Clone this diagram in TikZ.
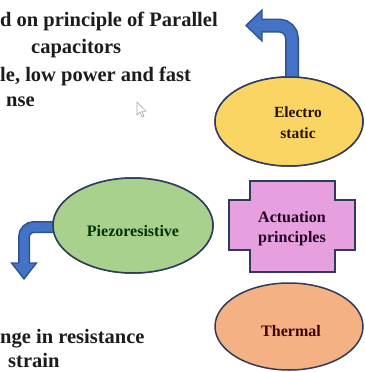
\documentclass[tikz,border=0pt]{standalone}
\usepackage{fontspec}
\setmainfont{Liberation Serif}[BoldFont={Liberation Serif Bold}]
\usetikzlibrary{shapes.geometric}
\definecolor{bordercol}{HTML}{2E3B5C}
\definecolor{yellowfill}{HTML}{FBD563}
\definecolor{greenfill}{HTML}{A9D18E}
\definecolor{pinkfill}{HTML}{E6A0DF}
\definecolor{orangefill}{HTML}{F4B183}
\definecolor{arrowfill}{HTML}{4472C4}
\definecolor{arrowedge}{HTML}{2F528F}
\definecolor{bodytext}{HTML}{1C1C1C}
\begin{document}
\begin{tikzpicture}[x=1pt,y=-1pt,
  shapeline/.style={draw=bordercol, line width=1.5pt},
  ell/.style={ellipse, shapeline, inner sep=0pt},
  lbl/.style={align=center, inner sep=0pt, font=\rmfamily\bfseries\fontsize{16}{20}\selectfont},
  body/.style={anchor=base west, inner sep=0pt, text=bodytext, font=\rmfamily\bfseries\fontsize{20.5}{24}\selectfont},
  shaftout/.style={draw=arrowedge, line cap=butt},
  shaftin/.style={draw=arrowfill, line cap=butt},
  head/.style={fill=arrowfill, draw=arrowedge, line width=1.3pt, line join=miter}
]
\clip (0,0) rectangle (364,372);
\fill[white] (0,0) rectangle (364,372);

% body texts
\node[body] (t1) at (0,26) {d on principle of Parallel};
\node[body] (t2) at (31,53) {capacitors};
\node[body] (t3) at (0,81) {le, low power and fast};
\node[body] (t4) at (6,106) {nse};
\node[body] (t5) at (0,343) {nge in resistance};
\node[body] (t6) at (8,367) {strain};

% mouse cursor
\draw[gray!70, line width=0.6pt, fill=white, line join=round]
  (137,102) -- (137,115) -- (140,112) -- (142.2,117) -- (144,116.2) -- (141.8,111.3) -- (146,111.3) -- cycle;

% ellipses (first pass, anchors for the arrows)
\node[ell, fill=yellowfill, minimum width=148pt, minimum height=89pt] (elec) at (289,121.5) {};
\node[ell, fill=greenfill, minimum width=160pt, minimum height=95pt] (piezo) at (133,225.5) {};
\node[ell, fill=orangefill, minimum width=148pt, minimum height=87pt] (therm) at (289,326.5) {};

% electrostatic arrow (up then left)
\coordinate (eBase) at (262,25.5);
\coordinate (eIn) at (259,25.5);
\coordinate (eTip) at (246,25.5);
\draw[shaftout, line width=14pt, rounded corners=13pt] (elec.north) ++(3,10) |- (eBase);
\draw[head] (eTip) -- ([yshift=15.5pt]eBase) -- ([yshift=-15.5pt]eBase) -- cycle;
\draw[shaftin, line width=11pt, rounded corners=13pt] (elec.north) ++(3,10) |- (eIn);

% piezoresistive arrow (left then down)
\coordinate (pBase) at (24,263);
\coordinate (pIn) at (24,266);
\coordinate (pTip) at (24,279);
\draw[shaftout, line width=12pt, rounded corners=10pt] (piezo.west) ++(10,1.5) -| (pBase);
\draw[head] (pTip) -- ([xshift=-12.5pt]pBase) -- ([xshift=12.5pt]pBase) -- cycle;
\draw[shaftin, line width=9pt, rounded corners=10pt] (piezo.west) ++(10,1.5) -| (pIn);

% redraw ellipses on top of arrow shafts
\node[ell, fill=yellowfill, minimum width=148pt, minimum height=89pt] (elecTop) at (289,121.5) {};
\node[ell, fill=greenfill, minimum width=160pt, minimum height=95pt] (piezoTop) at (133,225.5) {};

% actuation cross shape
\filldraw[fill=pinkfill, shapeline, line join=miter]
  (250,181) -- (335,181) -- (335,200) -- (355,200) -- (355,250) -- (335,250)
  -- (335,272) -- (250,272) -- (250,250) -- (229,250) -- (229,200) -- (250,200) -- cycle;

% labels
\node[lbl, text=black!85!orange, font=\rmfamily\bfseries\fontsize{15.5}{21}\selectfont] (elecLbl) at (298,123) {Electro\\static};
\node[lbl, text=black!80!green] (piezoLbl) at (133,231) {Piezoresistive};
\node[lbl, text=black!75!violet] (actLbl) at (292,229) {Actuation\\principles};
\node[lbl, text=black!75!red] (thermLbl) at (291,331) {Thermal};
\end{tikzpicture}
\end{document}
